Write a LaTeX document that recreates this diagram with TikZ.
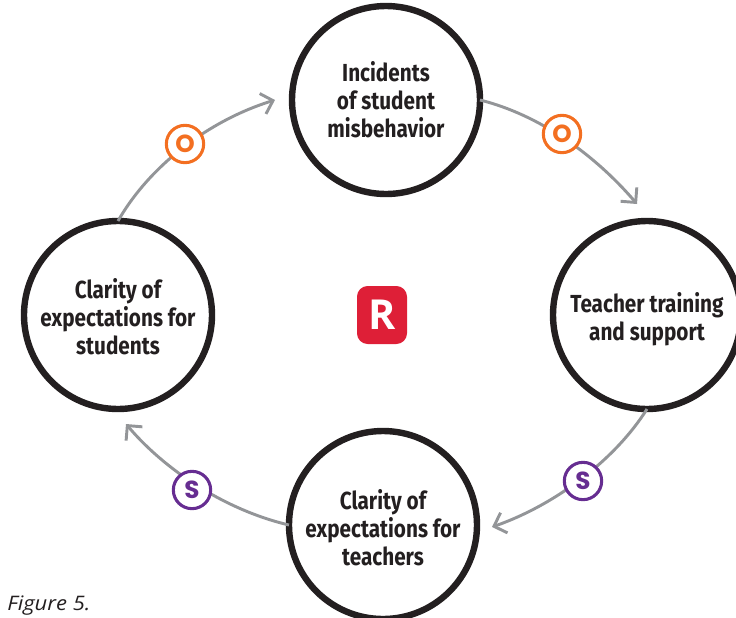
\documentclass[tikz,border=0pt]{standalone}
\usepackage{fontspec}
\usetikzlibrary{arrows.meta}
\setmainfont{Fira Sans}
\newfontfamily\labelfont[FakeStretch=0.84]{Fira Sans}
\newfontfamily\markfont{Poppins}
\newfontfamily\capfont[FakeStretch=1.1]{Open Sans}
\newfontfamily\logofont{Open Sans}
\definecolor{ink}{HTML}{231F20}
\definecolor{linkgrey}{HTML}{939598}
\definecolor{orangeO}{HTML}{F36F21}
\definecolor{purpleS}{HTML}{662D91}
\definecolor{logored}{HTML}{DE1F37}
\tikzset{
  stage/.style={circle,draw=ink,line width=4.8pt,fill=white,minimum size=141pt,inner sep=0pt,outer sep=0pt,
    align=center,font=\labelfont\bfseries\fontsize{18.5}{21}\selectfont,text=ink},
  link/.style={draw=linkgrey,line width=2.2pt,-{Straight Barb[length=8pt,width=16pt,line width=2.2pt]}},
  marker/.style={circle,fill=white,line width=2.3pt,minimum size=28pt,inner sep=0pt,outer sep=0pt,
    font=\markfont\bfseries\fontsize{18.5}{19}\selectfont},
  omark/.style={marker,draw=orangeO,text=orangeO},
  smark/.style={marker,draw=purpleS,text=purpleS},
  logo/.style={rounded corners=8pt,fill=logored,text=white,minimum width=37.5pt,minimum height=43.5pt,inner sep=0pt,
    font=\logofont\bfseries\fontsize{31}{31}\selectfont},
}
\begin{document}
\begin{tikzpicture}[x=0.75pt,y=-0.75pt]
\useasboundingbox (0,0) rectangle (736,618);
\clip (0,0) rectangle (736,618);
\node[stage] (top) at (386,100) {Incidents\\of student\\misbehavior};
\node[stage] (right) at (647,315) {\rule{0pt}{21.5pt}Teacher training\\and support};
\node[stage] (bottom) at (383,525) {\rule{0pt}{19pt}Clarity of\\expectations for\\teachers};
\node[stage] (left) at (118,315) {\rule{0pt}{18pt}Clarity of\\expectations for\\students};
\coordinate (e1) at (637,204);
\coordinate (e2) at (492,527);
\coordinate (e3) at (126,424);
\coordinate (e4) at (275,100);
\draw[link] (top.east) .. controls (540,115) and (595,155) .. (e1);
\draw[link] (right.south) .. controls (615,460) and (555,505) .. (e2);
\draw[link] (bottom.west) .. controls (225,510) and (165,470) .. (e3);
\draw[link] (left.north) .. controls (150,165) and (210,120) .. (e4);
\node[omark] (o1) at (562,134) {O};
\node[omark] (o2) at (185,144) {O};
\node[smark] (s1) at (583,481) {S};
\node[smark] (s2) at (192,490) {S};
\node[logo] (r) at (382,315) {R};
\node[anchor=base west,inner sep=0pt,text=ink,font=\capfont\itshape\fontsize{15}{17}\selectfont] (cap) at (7,610) {Figure 5.};
\end{tikzpicture}
\end{document}
